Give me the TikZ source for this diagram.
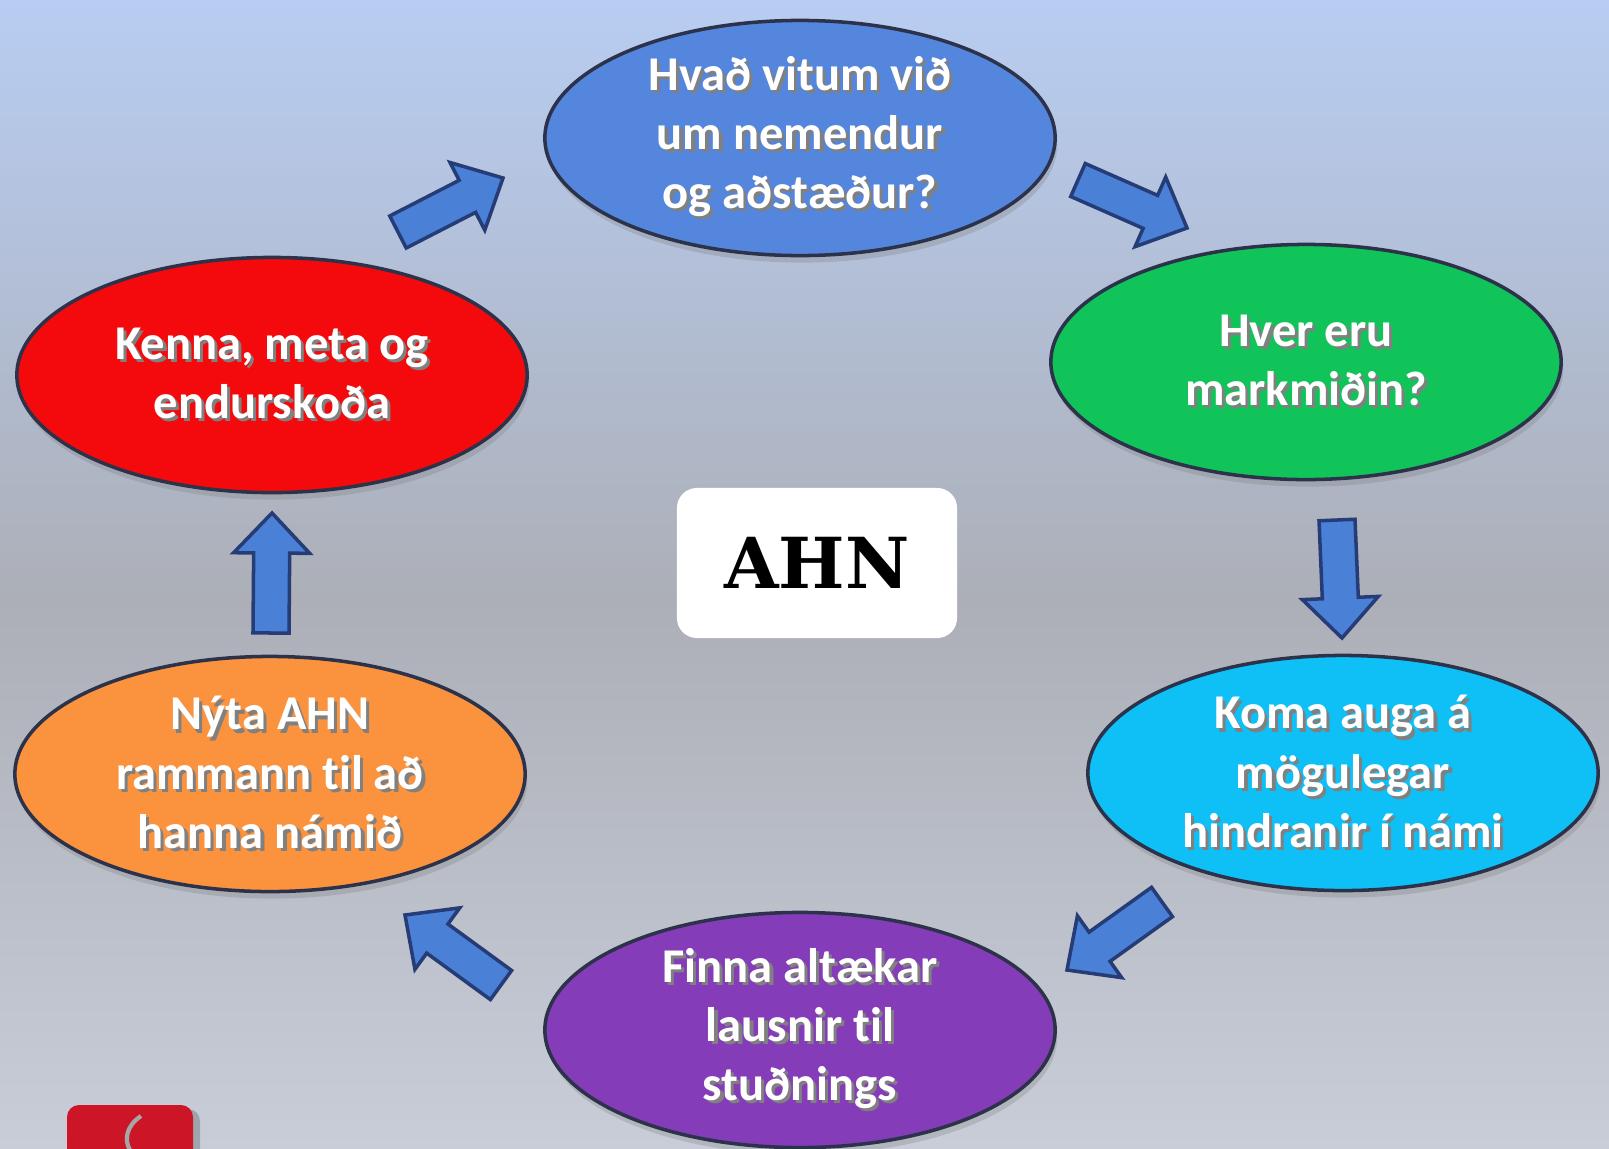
\documentclass[tikz,border=0pt]{standalone}
\usepackage{fontspec}
\setmainfont[Ligatures=CommonOff]{Carlito}
\newfontfamily\slabfont{DejaVu Serif}
\usetikzlibrary{shapes.geometric, calc, shadows}
\usepackage{xcolor}
\definecolor{bgtop}{RGB}{184,205,242}
\definecolor{bgmid}{RGB}{172,175,183}
\definecolor{bgbot}{RGB}{200,205,216}
\definecolor{phaseblue}{RGB}{84,134,222}
\definecolor{phasegreen}{RGB}{16,196,90}
\definecolor{phasecyan}{RGB}{14,192,246}
\definecolor{phasepurple}{RGB}{132,60,184}
\definecolor{phaseorange}{RGB}{250,146,62}
\definecolor{phasered}{RGB}{244,10,12}
\definecolor{edgecolor}{RGB}{45,50,75}
\definecolor{arrowblue}{RGB}{74,128,214}
\definecolor{arrowline}{RGB}{38,60,118}
\definecolor{logored}{RGB}{204,22,40}
\newcommand{\sh}[1]{\leavevmode\rlap{\kern0.9pt\raisebox{-0.9pt}{\color{black!50}#1}}#1}

\begin{document}
\begin{tikzpicture}[x=0.01cm, y=-0.01cm]
  \tikzset{
    phase/.style={
      ellipse,
      draw=edgecolor,
      line width=1pt,
      minimum width=5.1cm,
      minimum height=2.35cm,
      inner sep=0pt,
      align=center,
      text=white,
      font=\fontsize{13.8}{16.8}\selectfont\bfseries,
      drop shadow={shadow xshift=0.6pt, shadow yshift=-2pt, opacity=0.3}
    },
    hub/.style={
      rectangle,
      fill=white,
      rounded corners=0.2cm,
      minimum width=2.8cm,
      minimum height=1.5cm,
      font=\fontsize{20}{24}\selectfont\slabfont\bfseries
    },
    flow/.style={
      draw=arrowline,
      fill=arrowblue,
      line width=1pt,
      line join=miter,
      to path={
        -- ($(\tikztostart)!0.18cm!90:(\tikztotarget)$)
        -- ($(\tikztotarget)!0.4cm!(\tikztostart)!0.18cm!90:(\tikztotarget)$)
        -- ($(\tikztotarget)!0.4cm!(\tikztostart)!0.38cm!90:(\tikztotarget)$)
        -- (\tikztotarget)
        -- ($(\tikztotarget)!0.4cm!(\tikztostart)!0.38cm!-90:(\tikztotarget)$)
        -- ($(\tikztotarget)!0.4cm!(\tikztostart)!0.18cm!-90:(\tikztotarget)$)
        -- ($(\tikztostart)!0.18cm!-90:(\tikztotarget)$)
        -- cycle
      }
    }
  }

  % Background
  \useasboundingbox (0,0) rectangle (1609,1148);
  \clip (0,0) rectangle (1609,1148);
  \shade[top color=bgtop, bottom color=bgmid] (0,0) rectangle (1609,600);
  \shade[top color=bgmid, bottom color=bgbot] (0,600) rectangle (1609,1148);

  % Draw the cycle phases
  \node[phase, fill=phaseblue] at (800,138) (phase1) {
    \sh{Hvað vitum við}\\\sh{um nemendur}\\\sh{og aðstæður?}
  };
  \node[phase, fill=phasegreen] at (1306,362) (phase2) {
    \sh{Hver eru}\\\sh{markmiðin?}
  };
  \node[phase, fill=phasecyan] at (1343,773) (phase3) {
    \sh{Koma auga á}\\\sh{mögulegar}\\\sh{hindranir í námi}
  };
  \node[phase, fill=phasepurple] at (800,1030) (phase4) {
    \sh{Finna altækar}\\\sh{lausnir til}\\\sh{stuðnings}
  };
  \node[phase, fill=phaseorange] at (270,774) (phase5) {
    \sh{Nýta AHN}\\\sh{rammann til að}\\\sh{hanna námið}
  };
  \node[phase, fill=phasered] at (272,375) (phase6) {
    \sh{Kenna, meta og}\\\sh{endurskoða}
  };

  % Centre label
  \node[hub] at (817,563) (hub) {AHN};

  % Block arrows between the phases
  \coordinate (tail1) at (398,232);   \coordinate (tip1) at (503,178);
  \coordinate (tail2) at (1078,180);  \coordinate (tip2) at (1187,228);
  \coordinate (tail3) at (1337,520);  \coordinate (tip3) at (1342,638);
  \coordinate (tail4) at (1162,902);  \coordinate (tip4) at (1067,970);
  \coordinate (tail5) at (501,985);   \coordinate (tip5) at (405,915);
  \coordinate (tail6) at (271,633);   \coordinate (tip6) at (272,513);
  \foreach \i in {1,...,6} {
    \draw[flow] (tail\i) to (tip\i);
  }

  % Corner logo
  \fill[black, opacity=0.2, rounded corners=0.12cm] (72,1109) rectangle (200,1180);
  \fill[logored, rounded corners=0.12cm] (67,1105) rectangle (193,1180);
  \draw[gray!70, line width=1.2pt] (141,1116) .. controls (126,1126) and (124,1140) .. (130,1150);
\end{tikzpicture}
\end{document}
